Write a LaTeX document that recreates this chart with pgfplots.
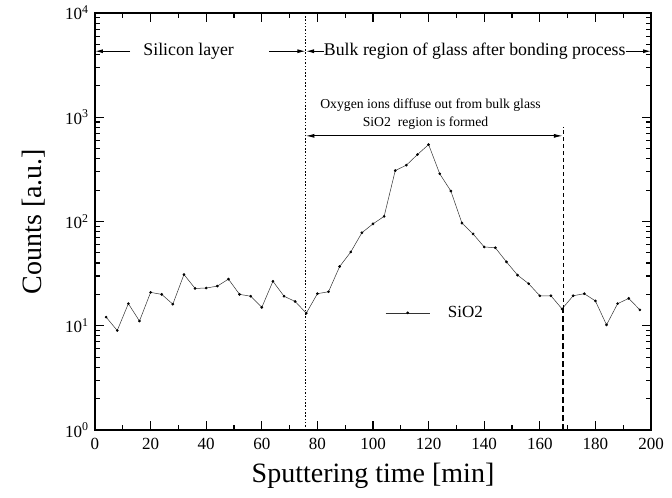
\documentclass[border=0pt]{standalone}
\usepackage{fontspec}
\setmainfont{Liberation Serif}
\usepackage{pgfplots}
\pgfplotsset{compat=1.18}
\usetikzlibrary{arrows.meta,calc}

\begin{document}
\begin{tikzpicture}
\begin{axis}[name=ax, scale only axis, width=556pt, height=417pt,
  ymode=log, xmin=0, xmax=200, ymin=1, ymax=10000,
  clip=false,
  xtick={0,20,...,200}, minor x tick num=1,
  ytick={1,10,100,1000,10000},
  yticklabels={10\textsuperscript{0},10\textsuperscript{1},10\textsuperscript{2},10\textsuperscript{3},10\textsuperscript{4}},
  tick align=inside,
  major tick length=9pt, minor tick length=5pt,
  axis line style={line width=1.4pt},
  every tick/.style={black, line width=1.1pt},
  tick label style={font=\fontsize{17}{19}\selectfont},
  xticklabel style={/pgf/number format/assume math mode=true, yshift=-5pt},
  yticklabel style={xshift=-3pt},
  xlabel={Sputtering time [min]},
  ylabel={Counts [a.u.]},
  xlabel style={font=\fontsize{28}{30}\selectfont, at={(axis description cs:0.5,-0.08)}, anchor=north, inner sep=0pt},
  ylabel style={font=\fontsize{28}{30}\selectfont, at={(axis description cs:-0.09,0.5)}, anchor=south, inner sep=0pt},
  legend style={draw=none, fill=none, at={(axis description cs:0.522,0.281)}, anchor=west, inner sep=0pt,
    font=\fontsize{17}{19}\selectfont},
  legend image code/.code={\draw[mark repeat=2,mark phase=2,#1] plot coordinates {(0pt,0pt) (22pt,0pt) (44pt,0pt)};},
]
\addplot[black!80, line width=0.5pt, mark=*, mark size=1.1pt, mark options={black}] coordinates {
(4,12.1) (8,9.0) (12,16.3) (16,11.1) (20,20.9) (24,20.0) (28,16.1) (32,31) (36,22.8) (40,23)
(44,24) (48,28) (52,20) (56,19.2) (60,15) (64,26.7) (68,19.2) (72,17.1) (76,13.2) (80,20.3)
(84,21.2) (88,37) (92,51) (96,78) (100,95) (104,112) (108,308) (112,347) (116,439) (120,547)
(124,287) (128,196) (132,96.5) (136,76) (140,57) (144,56) (148,41) (152,30.6) (156,25.3) (160,19.4)
(164,19.4) (168,14.5) (172,19.4) (176,20.3) (180,17.3) (184,10.2) (188,16.3) (192,18.3) (196,14.2)
};
\addlegendentry{\hspace{16pt}SiO2}

% frame and tick marks (lengths given in axis units: 9pt and 5pt)
\draw[line width=1.6pt] (rel axis cs:0,0) rectangle (rel axis cs:1,1);
\pgfplotsinvokeforeach{0,20,40,60,80,100,120,140,160,180,200}{
  \draw[line width=1.1pt] (axis cs:#1,1) -- (axis cs:#1,1.22);
  \draw[line width=1.1pt] (axis cs:#1,10000) -- (axis cs:#1,8196);
}
\pgfplotsinvokeforeach{10,30,50,70,90,110,130,150,170,190}{
  \draw[line width=1pt] (axis cs:#1,1) -- (axis cs:#1,1.117);
  \draw[line width=1pt] (axis cs:#1,10000) -- (axis cs:#1,8953);
}
\pgfplotsinvokeforeach{1,10,100,1000,10000}{
  \draw[line width=1.1pt] (axis cs:0,#1) -- (axis cs:3.24,#1);
  \draw[line width=1.1pt] (axis cs:200,#1) -- (axis cs:196.76,#1);
}
\pgfplotsinvokeforeach{2,3,4,5,6,7,8,9,20,30,40,50,60,70,80,90,200,300,400,500,600,700,800,900,2000,3000,4000,5000,6000,7000,8000,9000}{
  \draw[line width=0.9pt] (axis cs:0,#1) -- (axis cs:1.8,#1);
  \draw[line width=0.9pt] (axis cs:200,#1) -- (axis cs:198.2,#1);
}

% vertical boundary lines
\draw[line width=1pt, dash pattern=on 1.5pt off 1.8pt] (axis cs:75.7,1) -- (axis cs:75.7,10000);
\draw[line width=0.6pt, dash pattern=on 4pt off 3pt] (axis cs:168.3,14.5) -- (axis cs:168.3,810);
\draw[line width=1.6pt, dash pattern=on 6pt off 3pt] (axis cs:168.3,1) -- (axis cs:168.3,14.5);

% inner annotation
\draw[{Latex[length=9pt,width=4pt]}-{Latex[length=9pt,width=4pt]}, line width=1pt]
  (axis cs:75.7,663) -- (axis cs:168.3,663);
\node[font=\fontsize{13.7}{15}\selectfont] at (axis cs:120.7,1315) {Oxygen ions diffuse out from bulk glass};
\node[font=\fontsize{13.7}{15}\selectfont] at (axis cs:118.9,883) {SiO2\ \ region is formed};

% top annotation
\node[font=\fontsize{17.8}{19}\selectfont, inner sep=0pt] at (axis cs:33.7,4300) {Silicon layer};
\draw[-{Latex[length=8pt,width=4pt]}, line width=1pt] (axis cs:12.6,4300) -- (axis cs:0,4300);
\draw[-{Latex[length=8pt,width=4pt]}, line width=1pt] (axis cs:62.7,4300) -- (axis cs:75.7,4300);
\node[font=\fontsize{17.8}{19}\selectfont, inner sep=0pt] (bulk) at (axis cs:136.6,4300) {Bulk region of glass after bonding process};
\draw[-{Latex[length=8pt,width=4pt]}, line width=1pt] (bulk.west) -- (axis cs:75.9,4300);
\draw[-{Latex[length=8pt,width=4pt]}, line width=1pt] (bulk.east) -- (axis cs:200,4300);
\end{axis}
\pgfresetboundingbox
\path[use as bounding box] ($(ax.south west)+(-95pt,-67pt)$) rectangle ($(ax.north east)+(21pt,13pt)$);
\end{tikzpicture}
\end{document}
